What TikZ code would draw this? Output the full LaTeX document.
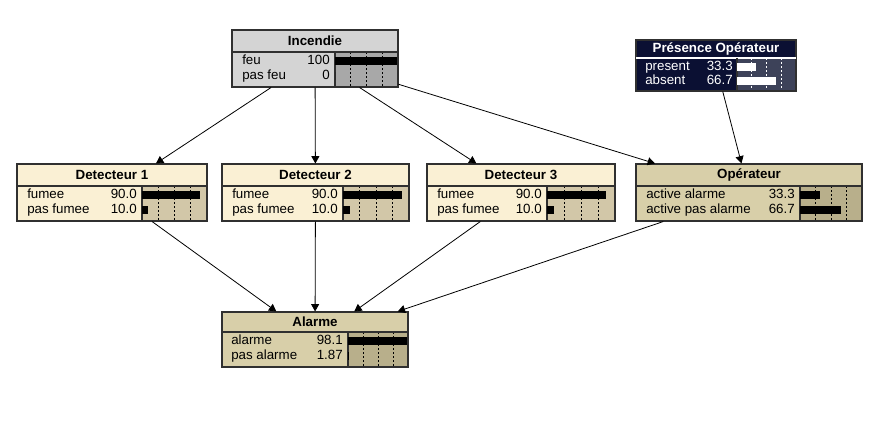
\documentclass[tikz,border=0pt]{standalone}
\usepackage{fontspec}
\setmainfont{Liberation Sans}
\usetikzlibrary{
    arrows.meta,
    fit
}
\definecolor{incTitle}{HTML}{D4D4D4}
\definecolor{incBar}{HTML}{A8A8A8}
\definecolor{detTitle}{HTML}{FAF0D4}
\definecolor{detBar}{HTML}{D2C7A8}
\definecolor{tanTitle}{HTML}{D8CFA9}
\definecolor{tanBar}{HTML}{B8AF8B}
\definecolor{navyTitle}{HTML}{0B1033}
\definecolor{navyBar}{HTML}{3D4259}
\definecolor{boxLine}{HTML}{303030}
\tikzset{
    % --- Frame of a network node (fit round its corners) ---
    bn box/.style = {
        rectangle, draw=boxLine, line width=0.8pt,
        inner sep=0pt
    },
    % --- Title separator and bar divider ---
    box line/.style = {
        draw=boxLine, line width=0.8pt
    },
    % --- Node title ---
    bn title/.style = {
        font=\fontsize{10}{12}\selectfont\bfseries,
        inner sep=0pt
    },
    % --- State name (left) ---
    state/.style = {
        anchor=west, inner sep=0pt,
        text height=7pt, text depth=2pt,
        font=\fontsize{10}{12}\selectfont
    },
    % --- Probability value (right) ---
    value/.style = {
        state, anchor=east
    },
    % --- Quarter marks in the bar area ---
    tick line/.style = {
        line width=0.6pt, dash pattern=on 1.5pt off 1.5pt
    },
    % --- Causal link ---
    link arrow/.style = {
        -{Triangle[length=5.5pt, width=6pt]}, line width=0.6pt
    }
}
\begin{document}
\begin{tikzpicture}[x=0.75pt, y=-0.75pt]
\useasboundingbox (0,0) rectangle (894,421);

% ---------------------------------------------------------
% Incendie
% ---------------------------------------------------------
\fill[incTitle] (232,30) rectangle (398,87);
\fill[incBar] (335,52) rectangle (398,87);
\foreach \f in {0.25,0.5,0.75}
    \draw[tick line] (335+63*\f,52) -- (335+63*\f,87);
\node[bn box, fit={(232,30)(398,87)}] (Incendie) {};
\draw[box line] (232,52) -- (398,52) (335,52) -- (335,87);
\node[bn title] at (315,41) {Incendie};
\foreach \st/\val/\p/\yy in {feu/100/1.0/61, pas feu/0/0/76} {
    \fill (335,\yy-4) rectangle (335+62*\p,\yy+4);
    \node[state] at (242,\yy) {\st};
    \node[value] at (330,\yy) {\val};
}

% ---------------------------------------------------------
% Presence Operateur
% ---------------------------------------------------------
\fill[navyTitle] (636,40) rectangle (796,91);
\fill[navyBar] (737,58) rectangle (796,91);
\foreach \f in {0.25,0.5,0.75}
    \draw[tick line, white] (737+59*\f,58) -- (737+59*\f,91);
\node[bn box, fit={(636,40)(796,91)}] (Presence) {};
\draw[white, line width=0.8pt] (636,58) -- (796,58);
\draw[box line] (737,58) -- (737,91);
\node[bn title, text=white] at (716,49) {Présence Opérateur};
\foreach \st/\val/\p/\yy in {present/33.3/0.333/67, absent/66.7/0.667/81} {
    \fill[white] (737,\yy-4) rectangle (737+58*\p,\yy+4);
    \node[state, text=white] at (645,\yy) {\st};
    \node[value, text=white] at (733,\yy) {\val};
}

% ---------------------------------------------------------
% Detecteur 1
% ---------------------------------------------------------
\fill[detTitle] (17,164) rectangle (207,221);
\fill[detBar] (142,186) rectangle (207,221);
\foreach \f in {0.25,0.5,0.75}
    \draw[tick line] (142+65*\f,186) -- (142+65*\f,221);
\node[bn box, fit={(17,164)(207,221)}] (Det1) {};
\draw[box line] (17,186) -- (207,186) (142,186) -- (142,221);
\node[bn title] at (112,175) {Detecteur 1};
\foreach \st/\val/\p/\yy in {fumee/90.0/0.90/195, pas fumee/10.0/0.10/210} {
    \fill (142,\yy-4) rectangle (142+64*\p,\yy+4);
    \node[state] at (27,\yy) {\st};
    \node[value] at (137,\yy) {\val};
}

% ---------------------------------------------------------
% Detecteur 2
% ---------------------------------------------------------
\fill[detTitle] (222,164) rectangle (409,221);
\fill[detBar] (343,186) rectangle (409,221);
\foreach \f in {0.25,0.5,0.75}
    \draw[tick line] (343+66*\f,186) -- (343+66*\f,221);
\node[bn box, fit={(222,164)(409,221)}] (Det2) {};
\draw[box line] (222,186) -- (409,186) (343,186) -- (343,221);
\node[bn title] at (315.5,175) {Detecteur 2};
\foreach \st/\val/\p/\yy in {fumee/90.0/0.90/195, pas fumee/10.0/0.10/210} {
    \fill (343,\yy-4) rectangle (343+65*\p,\yy+4);
    \node[state] at (232,\yy) {\st};
    \node[value] at (338,\yy) {\val};
}

% ---------------------------------------------------------
% Detecteur 3
% ---------------------------------------------------------
\fill[detTitle] (427,164) rectangle (615,221);
\fill[detBar] (547,186) rectangle (615,221);
\foreach \f in {0.25,0.5,0.75}
    \draw[tick line] (547+68*\f,186) -- (547+68*\f,221);
\node[bn box, fit={(427,164)(615,221)}] (Det3) {};
\draw[box line] (427,186) -- (615,186) (547,186) -- (547,221);
\node[bn title] at (521,175) {Detecteur 3};
\foreach \st/\val/\p/\yy in {fumee/90.0/0.90/195, pas fumee/10.0/0.10/210} {
    \fill (547,\yy-4) rectangle (547+66*\p,\yy+4);
    \node[state] at (437,\yy) {\st};
    \node[value] at (542,\yy) {\val};
}

% ---------------------------------------------------------
% Operateur
% ---------------------------------------------------------
\fill[tanTitle] (636,164) rectangle (862,221);
\fill[tanBar] (800,186) rectangle (862,221);
\foreach \f in {0.25,0.5,0.75}
    \draw[tick line] (800+62*\f,186) -- (800+62*\f,221);
\node[bn box, fit={(636,164)(862,221)}] (Operateur) {};
\draw[box line] (636,186) -- (862,186) (800,186) -- (800,221);
\node[bn title] at (749,175) {Opérateur};
\foreach \st/\val/\p/\yy in {active alarme/33.3/0.333/195, active pas alarme/66.7/0.667/210} {
    \fill (800,\yy-4) rectangle (800+61*\p,\yy+4);
    \node[state] at (646,\yy) {\st};
    \node[value] at (795,\yy) {\val};
}

% ---------------------------------------------------------
% Alarme
% ---------------------------------------------------------
\fill[tanTitle] (222,312) rectangle (408,367);
\fill[tanBar] (348,332) rectangle (408,367);
\foreach \f in {0.25,0.5,0.75}
    \draw[tick line] (348+60*\f,332) -- (348+60*\f,367);
\node[bn box, fit={(222,312)(408,367)}] (Alarme) {};
\draw[box line] (222,332) -- (408,332) (348,332) -- (348,367);
\node[bn title] at (315,322) {Alarme};
\foreach \st/\val/\p/\yy in {alarme/98.1/0.981/341, pas alarme/1.87/0.0187/356} {
    \fill (348,\yy-4) rectangle (348+60*\p,\yy+4);
    \node[state] at (231,\yy) {\st};
    \node[value] at (343,\yy) {\val};
}

% ---------------------------------------------------------
% Links
% ---------------------------------------------------------
\foreach \dst in {Det1, Det2, Det3, Operateur}
    \draw[link arrow] (Incendie) -- (\dst);
\draw[link arrow] (Presence) -- (Operateur);
\foreach \src in {Det1, Det2, Det3, Operateur}
    \draw[link arrow] (\src) -- (Alarme);

\end{tikzpicture}
\end{document}
